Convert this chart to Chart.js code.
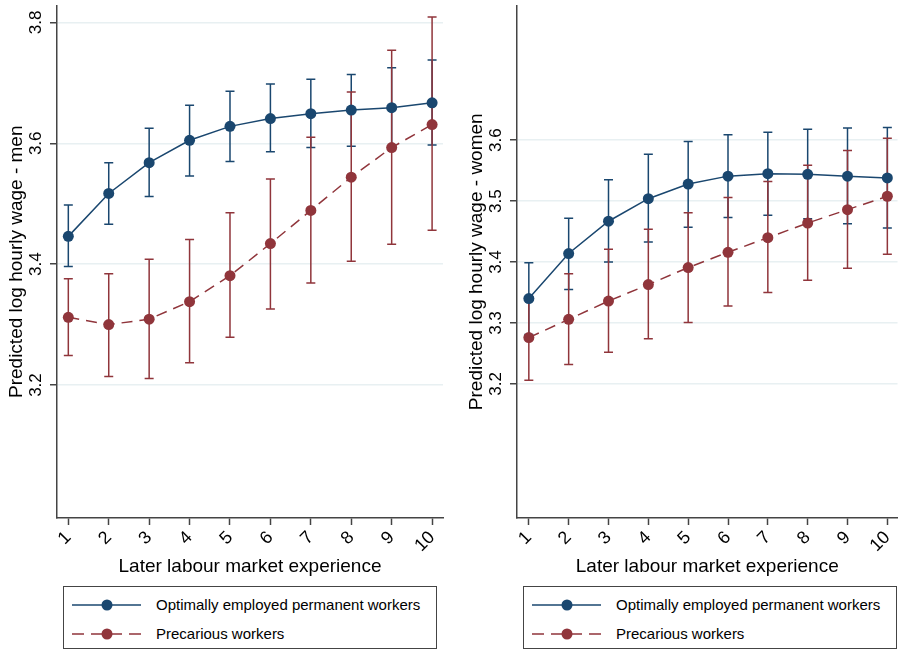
<!DOCTYPE html>
<html>
<head>
<meta charset="utf-8">
<script src="https://cdn.jsdelivr.net/npm/chart.js@4/dist/chart.umd.min.js"></script>
<style>
  body { margin: 0; background: #fff; }
  #wrap { position: relative; width: 903px; height: 650px; font-family: "Liberation Sans", Arial, sans-serif; color: #000; }
  .panel { position: absolute; top: 0; height: 580px; }
  .legend { position: absolute; top: 586px; width: 374px; height: 63px; border: 1px solid #444; box-sizing: border-box; }
  .row { position: absolute; left: 0; height: 20px; width: 100%; }
  .row svg { position: absolute; left: 7px; top: 0; }
  .row span { position: absolute; left: 92px; top: 1px; font-size: 15px; line-height: 18px; white-space: nowrap; }
</style>
</head>
<body>
<div id="wrap">
  <div class="panel" style="left:0;width:451px"><canvas id="men"></canvas></div>
  <div class="panel" style="left:460px;width:443px"><canvas id="women"></canvas></div>
  <div class="legend" id="legMen" style="left:63px"></div>
  <div class="legend" id="legWomen" style="left:523px"></div>
</div>
<script>
// valeurs
const experience = [1, 2, 3, 4, 5, 6, 7, 8, 9, 10];
const seriesNames = ["Optimally employed permanent workers", "Precarious workers"];

const menPermanent = [3.446, 3.517, 3.568, 3.605, 3.628, 3.641, 3.649, 3.655, 3.659, 3.667];
const menPermanentLow = [3.396, 3.466, 3.512, 3.546, 3.570, 3.586, 3.593, 3.595, 3.594, 3.597];
const menPermanentHigh = [3.498, 3.568, 3.625, 3.663, 3.686, 3.698, 3.706, 3.714, 3.725, 3.738];
const menPrecarious = [3.312, 3.300, 3.309, 3.338, 3.381, 3.434, 3.489, 3.544, 3.593, 3.631];
const menPrecariousLow = [3.249, 3.214, 3.211, 3.237, 3.279, 3.326, 3.369, 3.405, 3.433, 3.456];
const menPrecariousHigh = [3.376, 3.384, 3.408, 3.441, 3.485, 3.541, 3.610, 3.685, 3.754, 3.809];

const womenPermanent = [3.340, 3.414, 3.467, 3.504, 3.528, 3.541, 3.545, 3.544, 3.541, 3.538];
const womenPermanentLow = [3.281, 3.355, 3.400, 3.433, 3.457, 3.473, 3.477, 3.471, 3.463, 3.456];
const womenPermanentHigh = [3.399, 3.472, 3.535, 3.577, 3.598, 3.609, 3.613, 3.618, 3.620, 3.621];
const womenPrecarious = [3.276, 3.306, 3.336, 3.363, 3.391, 3.416, 3.440, 3.464, 3.486, 3.508];
const womenPrecariousLow = [3.206, 3.232, 3.252, 3.274, 3.301, 3.328, 3.350, 3.370, 3.390, 3.413];
const womenPrecariousHigh = [3.343, 3.381, 3.421, 3.454, 3.481, 3.506, 3.532, 3.559, 3.583, 3.603];

const menTicks = [3.2, 3.4, 3.6, 3.8];
const womenTicks = [3.2, 3.3, 3.4, 3.5, 3.6];

const blue = "#1a476f";
const red = "#90353b";

// barres d'erreur dessinées avant les lignes
const errorBars = {
  id: "errorBars",
  beforeDatasetsDraw(chart) {
    const ctx = chart.ctx;
    const sx = chart.scales.x;
    const sy = chart.scales.y;
    chart.data.datasets.forEach((ds) => {
      ctx.save();
      ctx.strokeStyle = ds.borderColor;
      ctx.lineWidth = 1.5;
      ds.data.forEach((p, i) => {
        const x = sx.getPixelForValue(p.x);
        const y1 = sy.getPixelForValue(ds.low[i]);
        const y2 = sy.getPixelForValue(ds.high[i]);
        ctx.beginPath();
        ctx.moveTo(x, y1); ctx.lineTo(x, y2);
        ctx.moveTo(x - 4.5, y1); ctx.lineTo(x + 4.5, y1);
        ctx.moveTo(x - 4.5, y2); ctx.lineTo(x + 4.5, y2);
        ctx.stroke();
      });
      ctx.restore();
    });
  }
};

function points(vals) {
  return experience.map((e, i) => ({ x: e, y: vals[i] }));
}

function makeChart(id, yTitle, yMin, yMax, yTicks, xMin, xMax, padRight, perm, permLow, permHigh, prec, precLow, precHigh) {
  new Chart(document.getElementById(id).getContext("2d"), {
    type: "line",
    data: {
      datasets: [
        {
          label: seriesNames[0], data: points(perm), low: permLow, high: permHigh,
          borderColor: blue, backgroundColor: blue, borderWidth: 1.5,
          pointRadius: 5.5, pointBackgroundColor: blue, pointBorderWidth: 0
        },
        {
          label: seriesNames[1], data: points(prec), low: precLow, high: precHigh,
          borderColor: red, backgroundColor: red, borderWidth: 1.5, borderDash: [11, 7],
          pointRadius: 5.5, pointBackgroundColor: red, pointBorderWidth: 0
        }
      ]
    },
    options: {
      responsive: false,
      animation: false,
      layout: { padding: { top: 5, right: padRight, left: 0, bottom: 0 } },
      plugins: { legend: { display: false }, tooltip: { enabled: false } },
      scales: {
        x: {
          type: "linear", min: xMin, max: xMax,
          afterBuildTicks: (s) => { s.ticks = experience.map((v) => ({ value: v })); },
          afterFit: (s) => { s.height = 62; s.paddingLeft = 0; s.paddingRight = 0; },
          ticks: { font: { size: 18 }, color: "#000", minRotation: 45, maxRotation: 45, autoSkip: false, padding: 2 },
          grid: { drawOnChartArea: false, tickLength: 7, tickColor: "#444", tickWidth: 1.5 },
          border: { color: "#444", width: 1.5 },
          title: { display: true, text: "Later labour market experience", font: { size: 19 }, color: "#000", padding: { top: 0, bottom: 2 } }
        },
        y: {
          min: yMin, max: yMax,
          afterBuildTicks: (s) => { s.ticks = yTicks.map((v) => ({ value: v })); },
          afterFit: (s) => { s.width = 57; s.paddingTop = 0; s.paddingBottom = 0; },
          ticks: { font: { size: 17 }, color: "#000", minRotation: 90, maxRotation: 90, crossAlign: "center", padding: 2, autoSkip: false,
            callback: (v) => v.toFixed(1) },
          grid: { color: "#e8f0f2", lineWidth: 1.5, tickLength: 7, tickColor: "#444", tickWidth: 1.5 },
          border: { color: "#444", width: 1.5 },
          title: { display: true, text: yTitle, font: { size: 19 }, color: "#000", padding: { top: 5, bottom: 0 } }
        }
      }
    },
    plugins: [errorBars]
  });
}

document.getElementById("men").width = 451;
document.getElementById("men").height = 580;
document.getElementById("women").width = 443;
document.getElementById("women").height = 580;

makeChart("men", "Predicted log hourly wage - men", 2.98, 3.828, menTicks, 0.72, 10.27, 8,
  menPermanent, menPermanentLow, menPermanentHigh, menPrecarious, menPrecariousLow, menPrecariousHigh);
makeChart("women", "Predicted log hourly wage - women", 2.98, 3.821, womenTicks, 0.703, 10.255, 0,
  womenPermanent, womenPermanentLow, womenPermanentHigh, womenPrecarious, womenPrecariousLow, womenPrecariousHigh);

// légendes en HTML
function legend(id) {
  const box = document.getElementById(id);
  const styles = [
    { color: blue, dash: "" },
    { color: red, dash: "12 7" }
  ];
  seriesNames.forEach((name, i) => {
    const row = document.createElement("div");
    row.className = "row";
    row.style.top = (i === 0 ? 8 : 37) + "px";
    row.innerHTML =
      '<svg width="72" height="20"><line x1="1" y1="10" x2="70" y2="10" stroke="' + styles[i].color +
      '" stroke-width="1.5"' + (styles[i].dash ? ' stroke-dasharray="' + styles[i].dash + '"' : "") +
      '/><circle cx="36" cy="10" r="5.5" fill="' + styles[i].color + '"/></svg><span>' + name + "</span>";
    box.appendChild(row);
  });
}
legend("legMen");
legend("legWomen");
</script>
</body>
</html>
